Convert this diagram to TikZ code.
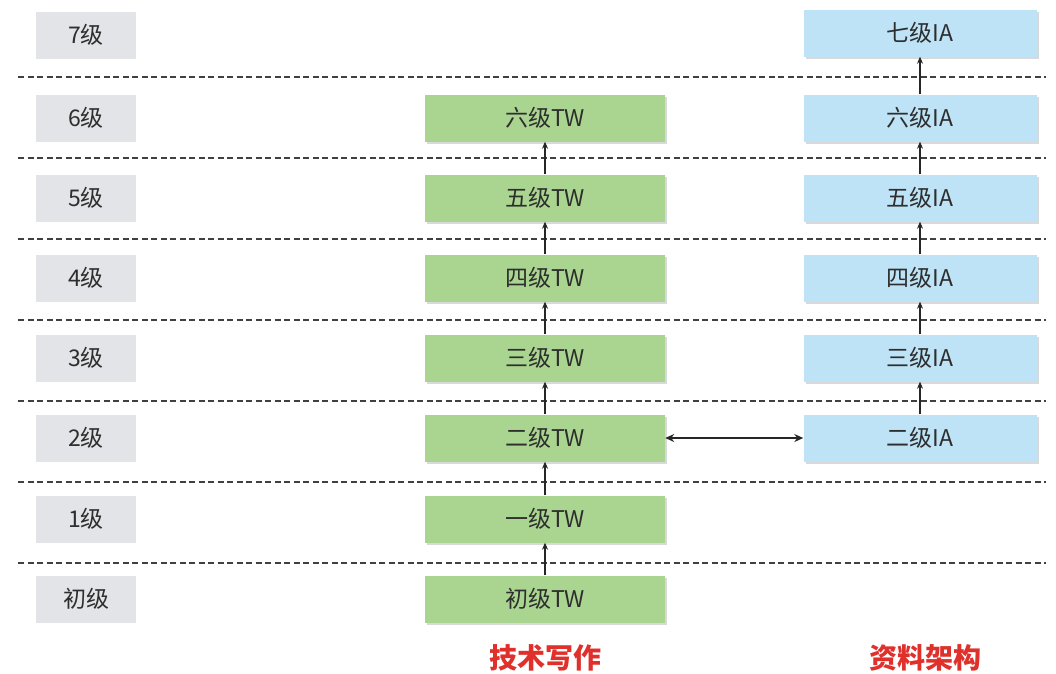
\documentclass[tikz,border=0pt]{standalone}
\usepackage{fontspec}
\setmainfont{Noto Sans CJK SC}
\usetikzlibrary{arrows.meta,shadows}
\definecolor{lvgray}{HTML}{E2E4E7}
\definecolor{twgreen}{HTML}{AAD591}
\definecolor{iablue}{HTML}{BEE3F6}
\definecolor{txt}{HTML}{2E2E2E}
\definecolor{titred}{HTML}{E0302C}
\tikzset{
  lvbox/.style={fill=lvgray, minimum width=100pt, minimum height=47pt, inner sep=0pt, font=\fontsize{23pt}{23pt}\selectfont, text=txt},
  twbox/.style={fill=twgreen, minimum width=240pt, minimum height=47pt, inner sep=0pt, font=\fontsize{23pt}{23pt}\selectfont, text=txt, drop shadow={shadow xshift=2pt, shadow yshift=-2pt, fill=black!25, opacity=0.6}},
  iabox/.style={twbox, fill=iablue, minimum width=233pt},
  sep/.style={draw=black!75, line width=2pt, dash pattern=on 6pt off 3.5pt},
  up/.style={-{Stealth[length=7pt,width=6pt]}, line width=1.3pt, black!85},
  title/.style={font=\fontsize{28pt}{28pt}\selectfont\bfseries, text=titred}
}
\begin{document}
\begin{tikzpicture}[x=1pt,y=-1pt]
\useasboundingbox (0,0) rectangle (1056,673);
% separators
\foreach \yy in {77,158,239,320,401,482,563}
  \draw[sep] (18,\yy) -- (1046,\yy);
% level boxes
\node[lvbox] (l7) at (86,35) {7级};
\node[lvbox] (l6) at (86,118) {6级};
\node[lvbox] (l5) at (86,198) {5级};
\node[lvbox] (l4) at (86,278) {4级};
\node[lvbox] (l3) at (86,358) {3级};
\node[lvbox] (l2) at (86,438) {2级};
\node[lvbox] (l1) at (86,519) {1级};
\node[lvbox] (l0) at (86,599) {初级};
% TW column
\node[twbox] (t6) at (545,118) {六级TW};
\node[twbox] (t5) at (545,198) {五级TW};
\node[twbox] (t4) at (545,278) {四级TW};
\node[twbox] (t3) at (545,358) {三级TW};
\node[twbox] (t2) at (545,438) {二级TW};
\node[twbox] (t1) at (545,519) {一级TW};
\node[twbox] (t0) at (545,599) {初级TW};
% IA column
\node[iabox] (i7) at (920,33) {七级IA};
\node[iabox] (i6) at (920,118) {六级IA};
\node[iabox] (i5) at (920,198) {五级IA};
\node[iabox] (i4) at (920,278) {四级IA};
\node[iabox] (i3) at (920,358) {三级IA};
\node[iabox] (i2) at (920,438) {二级IA};
% arrows
\foreach \a/\b in {t0/t1,t1/t2,t2/t3,t3/t4,t4/t5,t5/t6,i2/i3,i3/i4,i4/i5,i5/i6,i6/i7}
  \draw[up] (\a.north) -- (\b.south);
\draw[{Stealth[length=9pt,width=8pt]}-{Stealth[length=9pt,width=8pt]}, line width=1.6pt, black!85] (t2.east) -- (i2.west);
% titles
\node[title] (tw) at (545,658) {技术写作};
\node[title] (ia) at (925,658) {资料架构};
\end{tikzpicture}
\end{document}
